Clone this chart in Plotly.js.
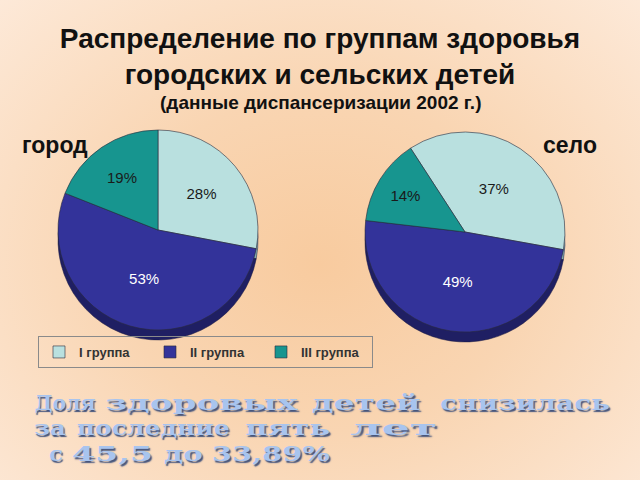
<!DOCTYPE html>
<html>
<head>
<meta charset="utf-8">
<script src="https://cdn.plot.ly/plotly-3.0.1.min.js"></script>
<style>
html,body{margin:0;padding:0;}
body{width:640px;height:480px;overflow:hidden;
background:radial-gradient(ellipse at 50% 55%, #f8cb9f 0%, #f9d5b2 45%, #fde9d8 100%);}
#chart{width:640px;height:480px;}
</style>
</head>
<body>
<div id="chart"></div>
<script>
// ---- data ----
const groups = ["I группа", "II группа", "III группа"];
const cityValues = [28, 53, 19];
const villageValues = [37, 49, 14];
const pieNames = ["город", "село"];
const groupColors = ["#b9e0df", "#33339a", "#17958f"];
const shadowColors = ["#86aeb0", "#1f1f63", "#0d6560"];
const textColors = ["#1a1a1a", "#ffffff", "#1a1a1a"];
const titleLines = ["Распределение по группам здоровья", "городских и сельских детей"];
const subtitle = "(данные диспансеризации 2002 г.)";
const noteLines = [
  ["Доля", "здоровых", "детей", "снизилась"],
  ["за", "последние", "пять", "лет"],
  ["с", "45,5", "до", "33,89%"]
];

// ---- layout (positions in px) ----
const W = 640, H = 480, R = 100, DEPTH = 10;
const noteWordSpans = [
  [[34,95],[106,298],[311,420],[440,610]],
  [[34,66],[77,230],[245,330],[350,437]],
  [[49,63],[72,153],[164,203],[212,330]]
];
const noteY = [403, 428, 454];

function dom(cx, cy, r){
  return {x:[(cx-r)/W,(cx+r)/W], y:[1-(cy+r)/H, 1-(cy-r)/H]};
}
const pies = [
  {values: cityValues, cx:158, cy:230, rot:0},
  {values: villageValues, cx:465, cy:232, rot:-33}
];
const traces = [];
pies.forEach((p) => {
  traces.push({
    type:'pie', labels:groups, values:p.values, sort:false,
    direction:'clockwise', rotation:p.rot,
    domain:dom(p.cx, p.cy+DEPTH, R),
    marker:{colors:shadowColors, line:{color:'#1a1a40', width:0.5}},
    textinfo:'none', hoverinfo:'skip', showlegend:false
  });
});
pies.forEach((p, i) => {
  traces.push({
    type:'pie', labels:groups, values:p.values, sort:false,
    direction:'clockwise', rotation:p.rot,
    domain:dom(p.cx, p.cy, R),
    marker:{colors:groupColors, line:{color:'#2a2a3a', width:0.6}},
    texttemplate:'%{value}%', textposition:'inside',
    insidetextorientation:'horizontal',
    insidetextfont:{family:'Liberation Sans, Arial, sans-serif', size:15, color:textColors},
    hoverinfo:'label+percent', showlegend: i===0
  });
});

const annotations = [];
const noteIdx = [];
noteLines.forEach((line, li) => {
  line.forEach((word, wi) => {
    const s = noteWordSpans[li][wi];
    noteIdx.push({idx: annotations.length, width: s[1]-s[0]});
    annotations.push({
      text:word, x:(s[0]+s[1])/2/W, xref:'paper', y:1-noteY[li]/H, yref:'paper',
      showarrow:false, xanchor:'center', yanchor:'middle',
      borderpad:0,
      font:{family:'DejaVu Serif, serif', size:20, weight:'bold', color:'#a8c4ee',
            shadow:'1px 2px 1px #44547c'}
    });
  });
});
annotations.push(
  {text:subtitle, x:0.5, xref:'paper', y:1-102/H, yref:'paper', showarrow:false,
   xanchor:'center', yanchor:'middle',
   font:{family:'Liberation Sans, Arial, sans-serif', size:19, weight:'bold', color:'#111'}},
  {text:pieNames[0], x:20/W, xref:'paper', y:1-145/H, yref:'paper', showarrow:false,
   xanchor:'left', yanchor:'middle',
   font:{family:'Liberation Sans, Arial, sans-serif', size:23, weight:'bold', color:'#111'}},
  {text:pieNames[1], x:599/W, xref:'paper', y:1-145/H, yref:'paper', showarrow:false,
   xanchor:'right', yanchor:'middle',
   font:{family:'Liberation Sans, Arial, sans-serif', size:23, weight:'bold', color:'#111'}}
);

const layout = {
  width:W, height:H,
  margin:{l:0, r:0, t:0, b:0},
  paper_bgcolor:'rgba(0,0,0,0)', plot_bgcolor:'rgba(0,0,0,0)',
  title:{text:titleLines.join('<br>'), x:0.5, xanchor:'center', y:1-48/H, yanchor:'top',
    font:{family:'Liberation Sans, Arial, sans-serif', size:28, weight:'bold', color:'#111'}},
  legend:{orientation:'h', x:38/W, xanchor:'left', y:1-336/H, yanchor:'top',
    bgcolor:'rgba(0,0,0,0)', bordercolor:'#8a8a8a', borderwidth:1,
    entrywidth:66, entrywidthmode:'pixels',
    font:{family:'Liberation Sans, Arial, sans-serif', size:13, weight:'bold', color:'#333'}},
  annotations:annotations
};
Plotly.newPlot('chart', traces, layout, {staticPlot:true, displayModeBar:false}).then(() => {
  // WordArt-like horizontal stretch of the note words
  noteIdx.forEach(n => {
    const t = document.querySelector('g.annotation[data-index="' + n.idx + '"] text.annotation-text');
    if (t) {
      t.setAttribute('textLength', n.width);
      t.setAttribute('lengthAdjust', 'spacingAndGlyphs');
    }
  });
});
</script>
</body>
</html>
